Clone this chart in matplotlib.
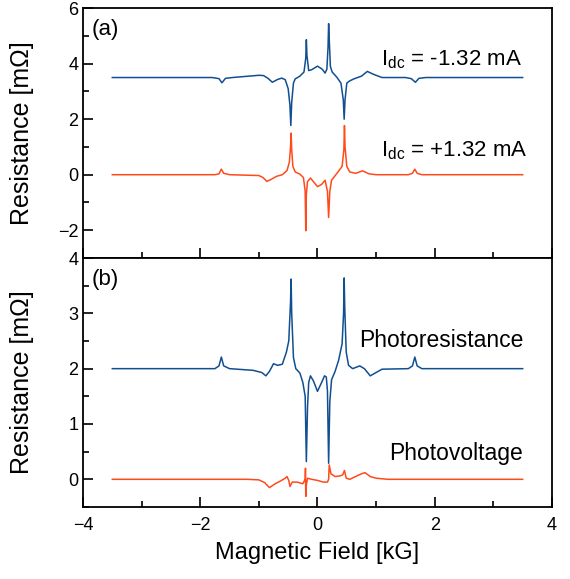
import matplotlib.pyplot as plt
from matplotlib.ticker import MultipleLocator

plt.rcParams['font.family'] = ['Liberation Sans', 'DejaVu Sans']

BLUE = "#114f91"
RED = "#ff4a1c"

# (a) I_dc = -1.32 mA
a_neg_x = [-3.5, -1.8, -1.68, -1.63, -1.57, -1.45, -1.0, -0.92, -0.85, -0.77, -0.68, -0.61,
           -0.55, -0.5, -0.47, -0.455, -0.44, -0.41, -0.38, -0.3, -0.23, -0.2, -0.19, -0.18,
           -0.15, -0.1, 0.0, 0.08, 0.13, 0.16, 0.18, 0.19, 0.2, 0.22, 0.25, 0.33, 0.4, 0.44,
           0.455, 0.47, 0.5, 0.55, 0.62, 0.75, 0.85, 0.95, 1.1, 1.5, 1.6, 1.67, 1.73, 1.85, 3.5]
a_neg_y = [3.5, 3.5, 3.46, 3.31, 3.47, 3.5, 3.58, 3.57, 3.48, 3.33, 3.43, 3.48,
           3.42, 3.1, 2.5, 1.77, 2.6, 3.3, 3.45, 3.55, 3.7, 4.2, 4.86, 4.3,
           3.75, 3.78, 3.91, 3.8, 3.66, 3.8, 4.6, 5.44, 4.9, 3.9, 3.7, 3.51, 3.3, 2.7,
           2.0, 2.7, 3.3, 3.38, 3.45, 3.55, 3.72, 3.62, 3.5, 3.5, 3.46, 3.33, 3.47, 3.5, 3.5]

# (a) I_dc = +1.32 mA
a_pos_x = [-3.5, -1.75, -1.68, -1.64, -1.6, -1.5, -1.0, -0.93, -0.865, -0.8, -0.7, -0.6,
           -0.52, -0.48, -0.46, -0.45, -0.44, -0.42, -0.38, -0.3, -0.24, -0.21, -0.2, -0.19,
           -0.17, -0.12, -0.05, 0.0, 0.07, 0.13, 0.17, 0.19, 0.21, 0.24, 0.35, 0.42, 0.45,
           0.46, 0.47, 0.5, 0.55, 0.65, 0.77, 0.88, 1.0, 1.55, 1.62, 1.66, 1.7, 1.78, 3.5]
a_pos_y = [0, 0, 0.03, 0.2, 0.05, 0, -0.03, -0.1, -0.24, -0.18, -0.06, 0.0,
           0.15, 0.45, 1.0, 1.5, 0.9, 0.3, 0.1, 0.02, -0.1, -0.6, -2.02, -0.7,
           -0.25, -0.12, -0.3, -0.43, -0.35, -0.2, -0.6, -1.54, -0.6, -0.2, 0.1, 0.3, 0.9,
           1.77, 1.0, 0.3, 0.1, 0.05, 0.14, 0.03, 0.0, 0, 0.05, 0.2, 0.05, 0, 0]

# (b) photoresistance
b_pr_x = [-3.5, -1.75, -1.68, -1.64, -1.6, -1.5, -1.1, -0.95, -0.88, -0.82, -0.75, -0.68,
          -0.6, -0.53, -0.49, -0.46, -0.45, -0.44, -0.41, -0.37, -0.3, -0.25, -0.21, -0.19,
          -0.17, -0.15, -0.12, -0.07, 0.0, 0.07, 0.12, 0.15, 0.17, 0.19, 0.21, 0.24, 0.3,
          0.36, 0.42, 0.445, 0.455, 0.465, 0.49, 0.53, 0.6, 0.72, 0.8, 0.9, 1.0, 1.1, 1.55,
          1.62, 1.66, 1.7, 1.78, 3.5]
b_pr_y = [2.0, 2.0, 2.05, 2.21, 2.05, 2.0, 1.97, 1.93, 1.87, 1.95, 2.09, 2.06,
          2.08, 2.3, 2.5, 3.2, 3.62, 3.0, 2.2, 2.0, 1.92, 1.75, 1.5, 0.32,
          1.3, 1.75, 1.87, 1.78, 1.59, 1.75, 1.87, 1.85, 1.6, 0.29, 1.4, 1.8, 1.95,
          2.15, 2.45, 3.0, 3.64, 3.1, 2.3, 2.06, 2.0, 2.05, 2.0, 1.87, 1.93, 1.99, 2.0,
          2.05, 2.21, 2.05, 2.0, 2.0]

# (b) photovoltage
b_pv_x = [-3.5, -1.2, -1.0, -0.9, -0.82, -0.72, -0.63, -0.55, -0.52, -0.49, -0.47, -0.43,
          -0.35, -0.25, -0.21, -0.205, -0.2, -0.19, -0.17, -0.1, 0.0, 0.1, 0.17, 0.19, 0.2,
          0.23, 0.3, 0.38, 0.43, 0.46, 0.49, 0.55, 0.65, 0.75, 0.81, 0.9, 1.0, 1.2, 3.5]
b_pv_y = [0, 0, -0.01, -0.06, -0.15, -0.08, -0.03, 0.02, 0.05, -0.02, -0.13, -0.05,
          -0.05, -0.08, 0.0, 0.2, -0.31, -0.1, 0.02, 0.0, -0.02, -0.05, -0.05, 0.0, 0.26,
          0.1, 0.05, 0.06, 0.08, 0.16, 0.02, 0.0, 0.05, 0.1, 0.12, 0.05, 0.02, 0, 0]

fig = plt.figure(figsize=(5.7, 5.79), dpi=100)
ax1 = fig.add_axes([0.1456, 0.5544, 0.8228, 0.4316])
ax2 = fig.add_axes([0.1456, 0.1244, 0.8228, 0.4300], sharex=ax1)

ax1.plot(a_neg_x, a_neg_y, color=BLUE, lw=1.1)
ax1.plot(a_pos_x, a_pos_y, color=RED, lw=1.1)
ax2.plot(b_pr_x, b_pr_y, color=BLUE, lw=1.1)
ax2.plot(b_pv_x, b_pv_y, color=RED, lw=1.1)

ax1.set_xlim(-4, 4)
ax1.set_ylim(-3, 6)
ax2.set_ylim(-0.5, 4)

ax1.yaxis.set_major_locator(MultipleLocator(2))
ax1.yaxis.set_minor_locator(MultipleLocator(1))
ax2.yaxis.set_major_locator(MultipleLocator(1))
ax2.yaxis.set_minor_locator(MultipleLocator(0.5))
ax2.xaxis.set_major_locator(MultipleLocator(2))
ax2.xaxis.set_minor_locator(MultipleLocator(1))

for ax in (ax1, ax2):
    ax.tick_params(which='both', direction='in', top=False, right=False,
                   labelsize=13, width=1.2)
    ax.tick_params(which='major', length=7)
    ax.tick_params(which='minor', length=4)
    for s in ax.spines.values():
        s.set_linewidth(1.3)
    ax.set_ylabel("Resistance [mΩ]", fontsize=18)
ax1.tick_params(axis='x', labelbottom=False)
ax2.tick_params(axis='x', pad=7)
ax1.yaxis.set_label_coords(-0.105, 0.5)
ax2.yaxis.set_label_coords(-0.105, 0.5)
ax2.set_xlabel("Magnetic Field [kG]", fontsize=17, labelpad=6)

ax1.text(0.018, 0.955, "(a)", transform=ax1.transAxes, fontsize=16, va='top')
ax2.text(0.018, 0.955, "(b)", transform=ax2.transAxes, fontsize=16, va='top')

ax1.text(1.08, 4.15, r"I$_{\mathregular{dc}}$ = -1.32 mA", fontsize=16, ha='left', va='center')
ax1.text(1.08, 0.85, r"I$_{\mathregular{dc}}$ = +1.32 mA", fontsize=16, ha='left', va='center')
ax2.text(3.51, 2.5, "Photoresistance", fontsize=16.5, ha='right', va='center')
ax2.text(3.51, 0.47, "Photovoltage", fontsize=16.5, ha='right', va='center')

fig.savefig("out.png", dpi=100)
